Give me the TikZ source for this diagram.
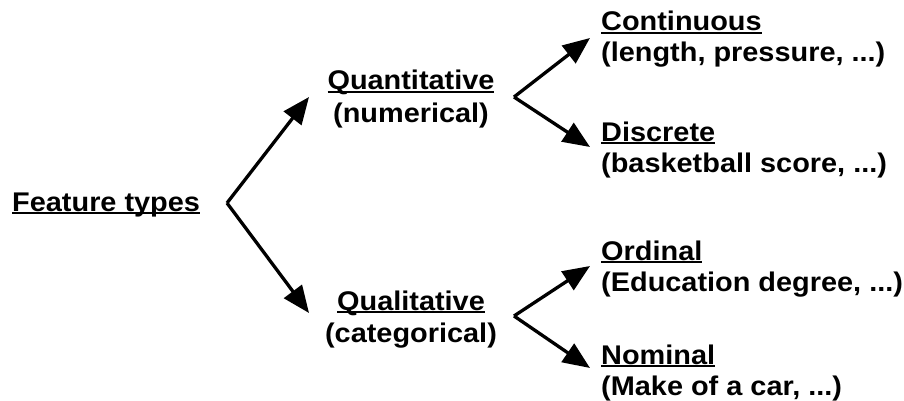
\documentclass[tikz,border=0pt]{standalone}
\usepackage{fontspec}
\setmainfont[FakeStretch=1.07]{Liberation Sans}
\usetikzlibrary{arrows.meta}
\newcommand\ftul[1]{\setbox0\hbox{#1}\rlap{\rule[-3pt]{\wd0}{1.8pt}}\box0}
\begin{document}
\begin{tikzpicture}[x=1pt,y=-1pt,
  txt/.style={inner sep=0pt, font=\fontsize{27}{31}\selectfont\bfseries},
  arr/.style={line width=3.3pt, -{Triangle[length=27pt,width=22pt]}}]
\useasboundingbox (0,0) rectangle (904,401);
% texts
\node[txt, anchor=base west] (ft) at (12,211) {\ftul{Feature types}};
\node[txt, anchor=base] (qn) at (411,90) {\ftul{Quantitative}};
\node[txt, anchor=base] (qnb) at (411,122) {(numerical)};
\node[txt, anchor=base] (ql) at (411,310) {\ftul{Qualitative}};
\node[txt, anchor=base] (qlb) at (411,342) {(categorical)};
\node[txt, anchor=base west] (co) at (601,31) {\ftul{Continuous}};
\node[txt, anchor=base west] (cob) at (601,62) {(length, pressure, ...)};
\node[txt, anchor=base west] (di) at (601,141) {\ftul{Discrete}};
\node[txt, anchor=base west] (dib) at (601,172) {(basketball score, ...)};
\node[txt, anchor=base west] (or) at (601,260) {\ftul{Ordinal}};
\node[txt, anchor=base west] (orb) at (601,291) {(Education degree, ...)};
\node[txt, anchor=base west] (no) at (601,364) {\ftul{Nominal}};
\node[txt, anchor=base west] (nob) at (601,395) {(Make of a car, ...)};
% branch points and arrow tips
\coordinate (v0) at (227,203);
\coordinate (t0a) at (309,97);
\coordinate (t0b) at (309,313);
\coordinate (v1) at (514,97);
\coordinate (t1a) at (590,38);
\coordinate (t1b) at (590,147);
\coordinate (v2) at (514,316);
\coordinate (t2a) at (590,266);
\coordinate (t2b) at (590,368);
\draw[arr] (v0) -- (t0a);
\draw[arr] (v0) -- (t0b);
\draw[arr] (v1) -- (t1a);
\draw[arr] (v1) -- (t1b);
\draw[arr] (v2) -- (t2a);
\draw[arr] (v2) -- (t2b);
\end{tikzpicture}
\end{document}
